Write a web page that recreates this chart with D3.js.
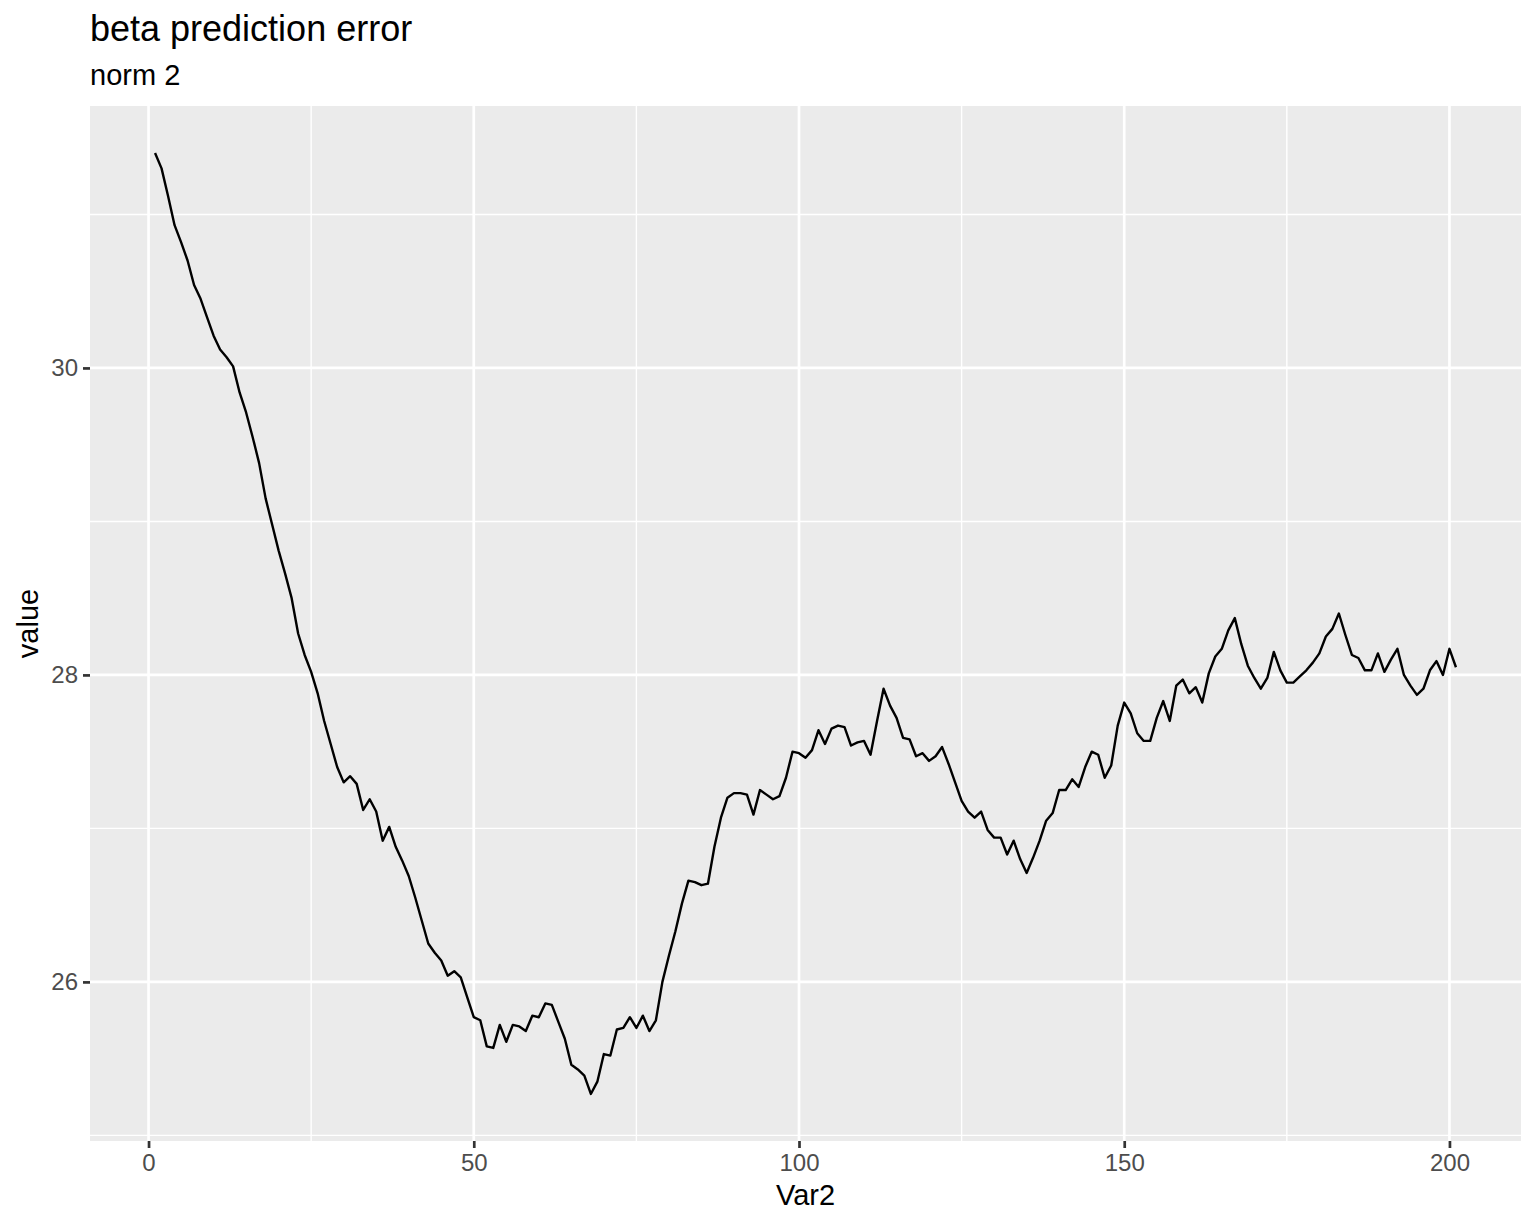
<!DOCTYPE html>
<html>
<head>
<meta charset="utf-8">
<script src="https://d3js.org/d3.v7.min.js"></script>
<style>
  body { margin: 0; background: #fff; }
  text { font-family: "Liberation Sans", Arial, Helvetica, sans-serif; }
</style>
</head>
<body>
<script>
// values, one per Var2 step (1..201)
var values = [
  31.40, 31.30, 31.12, 30.93, 30.82, 30.70, 30.54, 30.45, 30.33, 30.21,
  30.12, 30.07, 30.01, 29.84, 29.71, 29.55, 29.38, 29.15, 28.98, 28.81,
  28.66, 28.50, 28.27, 28.13, 28.02, 27.88, 27.70, 27.55, 27.40, 27.30,
  27.34, 27.29, 27.12, 27.19, 27.11, 26.92, 27.01, 26.88, 26.79, 26.69,
  26.55, 26.40, 26.25, 26.19, 26.14, 26.04, 26.07, 26.03, 25.90, 25.77,
  25.75, 25.58, 25.57, 25.72, 25.61, 25.72, 25.71, 25.68, 25.78, 25.77,
  25.86, 25.85, 25.74, 25.63, 25.46, 25.43, 25.39, 25.27, 25.35, 25.53,
  25.52, 25.69, 25.70, 25.77, 25.70, 25.78, 25.68, 25.75, 26.00, 26.17,
  26.33, 26.51, 26.66, 26.65, 26.63, 26.64, 26.88, 27.07, 27.20, 27.23,
  27.23, 27.22, 27.09, 27.25, 27.22, 27.19, 27.21, 27.33, 27.50, 27.49,
  27.46, 27.51, 27.64, 27.55, 27.65, 27.67, 27.66, 27.54, 27.56, 27.57,
  27.48, 27.70, 27.91, 27.80, 27.72, 27.59, 27.58, 27.47, 27.49, 27.44,
  27.47, 27.53, 27.42, 27.30, 27.18, 27.11, 27.07, 27.11, 26.99, 26.94,
  26.94, 26.83, 26.92, 26.80, 26.71, 26.81, 26.92, 27.05, 27.10, 27.25,
  27.25, 27.32, 27.27, 27.40, 27.50, 27.48, 27.33, 27.41, 27.67, 27.82,
  27.75, 27.62, 27.57, 27.57, 27.72, 27.83, 27.70, 27.93, 27.97, 27.88,
  27.92, 27.82, 28.01, 28.12, 28.17, 28.29, 28.37, 28.20, 28.06, 27.98,
  27.91, 27.98, 28.15, 28.03, 27.95, 27.95, 27.99, 28.03, 28.08, 28.14,
  28.25, 28.30, 28.40, 28.26, 28.13, 28.11, 28.03, 28.03, 28.14, 28.02,
  28.10, 28.17, 28.00, 27.93, 27.87, 27.91, 28.03, 28.09, 28.00, 28.17,
  28.05
];
var xTicks = [0, 50, 100, 150, 200];
var xMinor = [25, 75, 125, 175];
var yTicks = [26, 28, 30];
var yMinor = [25, 27, 29, 31];

var w = 1536;
var h = 1228;
// panel edges (note: "top" is a reserved window global, so use other names)
var panelLeft = 90, panelRight = 1521, panelTop = 106, panelBottom = 1141;

var data = values.map(function(v, i) { return {x: i + 1, y: v}; });

var svg = d3.select("body")
  .append("svg")
  .attr("width", w)
  .attr("height", h);

// ggplot style 5% expansion on both axes
var xExt = d3.extent(data, function(d) { return d.x; });
var yExt = d3.extent(data, function(d) { return d.y; });
var xPad = (xExt[1] - xExt[0]) * 0.05;
var yPad = (yExt[1] - yExt[0]) * 0.05;

var x = d3.scaleLinear()
  .domain([xExt[0] - xPad, xExt[1] + xPad])
  .range([panelLeft, panelRight]);

var y = d3.scaleLinear()
  .domain([yExt[0] - yPad, yExt[1] + yPad])
  .range([panelBottom, panelTop]);

// panel
svg.append("rect")
  .attr("x", panelLeft)
  .attr("y", panelTop)
  .attr("width", panelRight - panelLeft)
  .attr("height", panelBottom - panelTop)
  .attr("fill", "#EBEBEB");

// minor grid
svg.selectAll("line.xminor")
  .data(xMinor)
  .enter()
  .append("line")
  .attr("x1", function(d) { return x(d); })
  .attr("x2", function(d) { return x(d); })
  .attr("y1", panelTop)
  .attr("y2", panelBottom)
  .attr("stroke", "white")
  .attr("stroke-width", 1.4);

svg.selectAll("line.yminor")
  .data(yMinor)
  .enter()
  .append("line")
  .attr("x1", panelLeft)
  .attr("x2", panelRight)
  .attr("y1", function(d) { return y(d); })
  .attr("y2", function(d) { return y(d); })
  .attr("stroke", "white")
  .attr("stroke-width", 1.4);

// major grid
svg.selectAll("line.xmajor")
  .data(xTicks)
  .enter()
  .append("line")
  .attr("x1", function(d) { return x(d); })
  .attr("x2", function(d) { return x(d); })
  .attr("y1", panelTop)
  .attr("y2", panelBottom)
  .attr("stroke", "white")
  .attr("stroke-width", 2.7);

svg.selectAll("line.ymajor")
  .data(yTicks)
  .enter()
  .append("line")
  .attr("x1", panelLeft)
  .attr("x2", panelRight)
  .attr("y1", function(d) { return y(d); })
  .attr("y2", function(d) { return y(d); })
  .attr("stroke", "white")
  .attr("stroke-width", 2.7);

// the series
var line = d3.line()
  .x(function(d) { return x(d.x); })
  .y(function(d) { return y(d.y); });

svg.append("path")
  .datum(data)
  .attr("d", line)
  .attr("fill", "none")
  .attr("stroke", "black")
  .attr("stroke-width", 2.4)
  .attr("stroke-linejoin", "round");

// axes
var xAxis = svg.append("g")
  .attr("transform", "translate(0," + panelBottom + ")")
  .call(d3.axisBottom(x).tickValues(xTicks).tickSize(7).tickPadding(6).tickFormat(d3.format("d")));

var yAxis = svg.append("g")
  .attr("transform", "translate(" + panelLeft + ",0)")
  .call(d3.axisLeft(y).tickValues(yTicks).tickSize(7).tickPadding(5).tickFormat(d3.format("d")));

[xAxis, yAxis].forEach(function(g) {
  g.select(".domain").remove();
  g.selectAll(".tick line").attr("stroke", "#333333").attr("stroke-width", 2.7);
  g.selectAll(".tick text")
    .attr("fill", "#4D4D4D")
    .attr("font-size", "24px")
    .attr("font-family", "'Liberation Sans', Arial, sans-serif");
});

// titles
svg.append("text")
  .text("beta prediction error")
  .attr("x", panelLeft)
  .attr("y", 41)
  .attr("font-size", "36px")
  .attr("fill", "black");

svg.append("text")
  .text("norm 2")
  .attr("x", panelLeft)
  .attr("y", 85)
  .attr("font-size", "29px")
  .attr("fill", "black");

svg.append("text")
  .text("Var2")
  .attr("x", (panelLeft + panelRight) / 2)
  .attr("y", 1205)
  .attr("text-anchor", "middle")
  .attr("font-size", "29px")
  .attr("fill", "black");

svg.append("text")
  .text("value")
  .attr("transform", "translate(38," + ((panelTop + panelBottom) / 2) + ") rotate(-90)")
  .attr("text-anchor", "middle")
  .attr("font-size", "29px")
  .attr("fill", "black");
</script>
</body>
</html>
